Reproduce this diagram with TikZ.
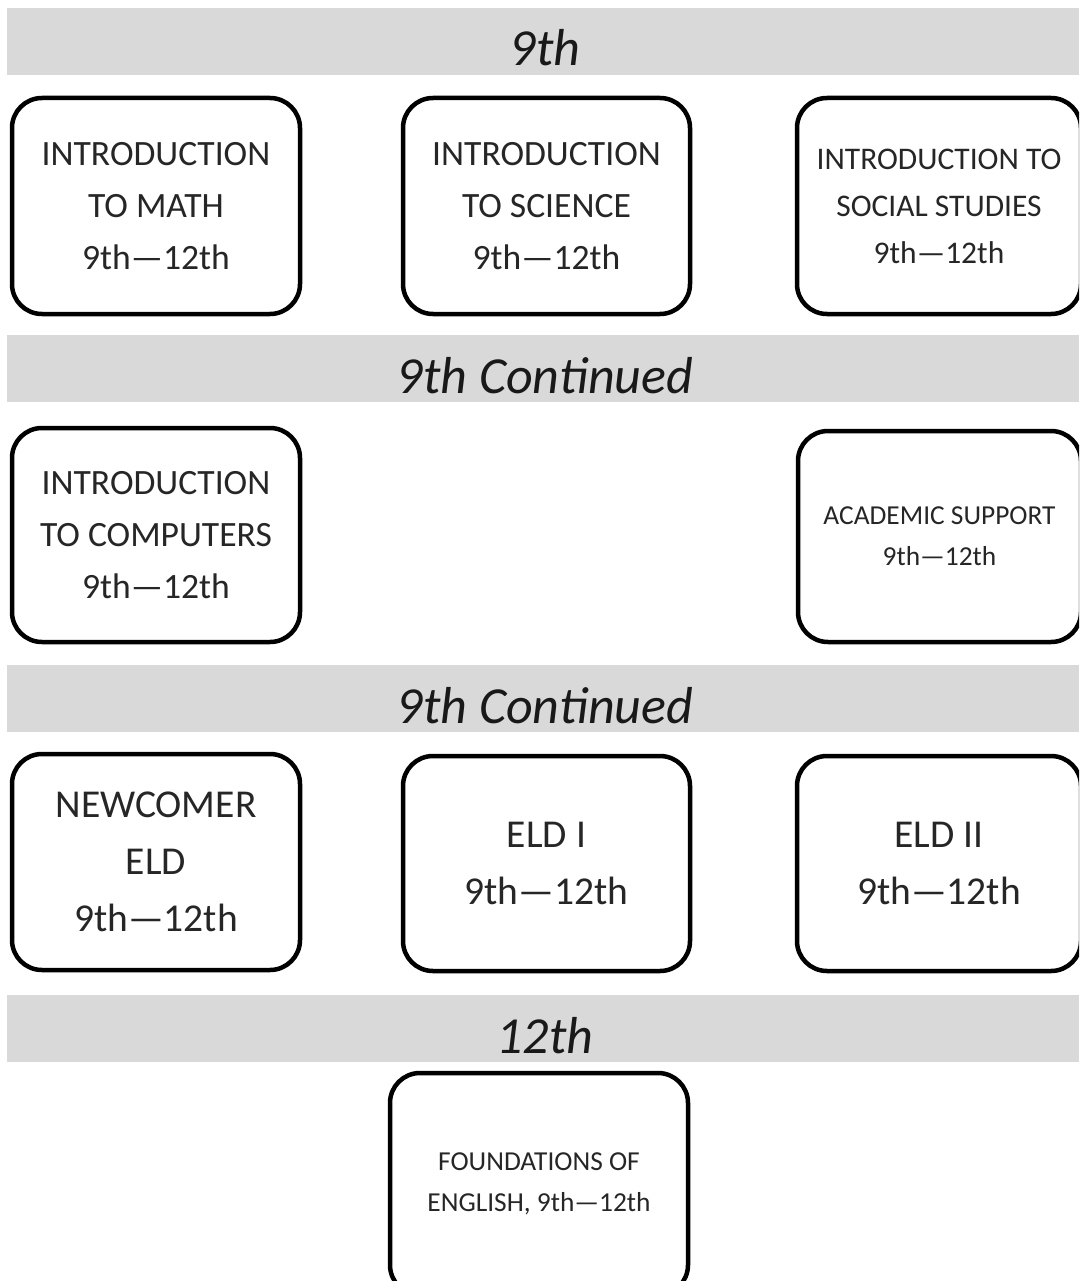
\documentclass[tikz,border=0pt]{standalone}
\usepackage{fontspec}
\setmainfont{Carlito}
\usepackage{tikz}

\begin{document}
\begin{tikzpicture}[line join=round,x=1pt,y=-1pt,
    kurs/.style={draw=black,line width=4.5pt,rounded corners=30pt,fill=white,
                 align=center,text=black!85,inner sep=0pt},
    gross/.style={font=\fontsize{35.6}{52}\selectfont},
    mittel/.style={font=\fontsize{31.5}{47}\selectfont},
    klein/.style={font=\fontsize{27.4}{41}\selectfont},
    riesig/.style={font=\fontsize{39.5}{57}\selectfont},
    kopf/.style={font=\fontsize{52}{54}\selectfont\itshape,anchor=base,text=black!90}]
  \path[use as bounding box,clip] (0,0) rectangle (1079,1281);
  \fill[white] (0,0) rectangle (1079,1281); % Hintergrund

  % graue Balken mit Jahrgang
  \foreach \y/\t [count=\i] in {8/9th,335/9th Continued,665/9th Continued,995/12th}{
    \fill[color=gray!30] (7,\y) rectangle (1079,\y+67);
    \node[kopf] (k\i) at (545,\y+58) {\t};
  }

  % Reihe 1
  \node[kurs,gross,minimum width=288,minimum height=216] (math) at (156,206)
    {INTRODUCTION\\TO MATH\\9th—12th};
  \node[kurs,gross,minimum width=287,minimum height=216] (sci) at (546.5,206)
    {INTRODUCTION\\TO SCIENCE\\9th—12th};
  \node[kurs,mittel,minimum width=284,minimum height=216] (soc) at (939,206)
    {INTRODUCTION TO\\SOCIAL STUDIES\\9th—12th};

  % Reihe 2
  \node[kurs,gross,minimum width=288,minimum height=214] (comp) at (156,535)
    {INTRODUCTION\\TO COMPUTERS\\9th—12th};
  \node[kurs,klein,minimum width=283,minimum height=211] (acad) at (939.5,536.5)
    {ACADEMIC SUPPORT\\9th—12th};

  % Reihe 3
  \node[kurs,riesig,minimum width=288,minimum height=216] (newc) at (156,862)
    {NEWCOMER\\ELD\\9th—12th};
  \node[kurs,riesig,minimum width=287,minimum height=215] (eldi) at (546.5,863.5)
    {ELD I\\9th—12th};
  \node[kurs,riesig,minimum width=284,minimum height=215] (eldii) at (939,863.5)
    {ELD II\\9th—12th};

  % Reihe 4
  \node[kurs,klein,minimum width=298,minimum height=222] (found) at (539,1184)
    {FOUNDATIONS OF\\ENGLISH, 9th—12th};
\end{tikzpicture}
\end{document}
